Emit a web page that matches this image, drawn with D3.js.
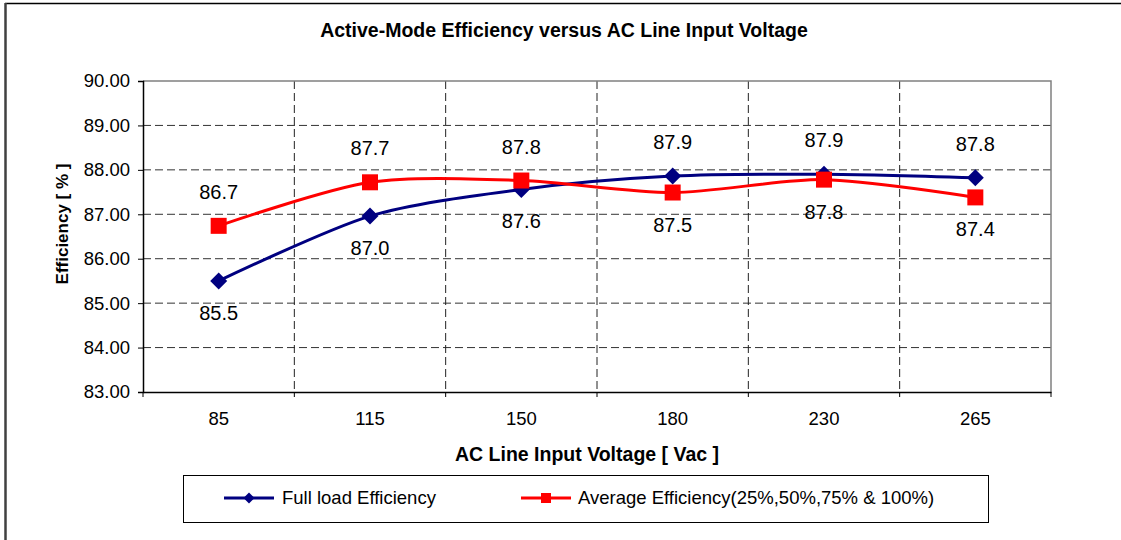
<!DOCTYPE html>
<html>
<head>
<meta charset="utf-8">
<script src="https://cdn.jsdelivr.net/npm/d3@7"></script>
<style>
  body { margin: 0; background: #fff; }
  svg { display: block; font-family: "Liberation Sans", Arial, sans-serif; }
</style>
</head>
<body>
<script>
// chart data
var voltages = ["85", "115", "150", "180", "230", "265"];
var fullLoad = [85.50, 86.96, 87.56, 87.86, 87.90, 87.82];
var average = [86.74, 87.72, 87.76, 87.49, 87.78, 87.38];
var yTicks = [83, 84, 85, 86, 87, 88, 89, 90];
var fullLabelSide = ["below", "below", "below", "above", "above", "above"];
var avgLabelSide = ["above", "above", "above", "below", "below", "below"];
var seriesNames = ["Full load Efficiency", "Average Efficiency(25%,50%,75% & 100%)"];

var W = 1121, H = 540;
var margin = { top: 81, right: 70, bottom: 148, left: 143 };
var width = W - margin.left - margin.right,
    height = H - margin.top - margin.bottom;

var svg = d3.select("body").append("svg")
    .attr("width", W)
    .attr("height", H);

// outer frame (only top and left edges show)
svg.append("line").attr("x1", 5).attr("x2", W).attr("y1", 3.5).attr("y2", 3.5)
    .attr("stroke", "#000").attr("stroke-width", 1.5);
svg.append("line").attr("x1", 5.5).attr("x2", 5.5).attr("y1", 3).attr("y2", H)
    .attr("stroke", "#404040").attr("stroke-width", 2.5);

svg.append("text")
    .attr("x", 564).attr("y", 37)
    .attr("text-anchor", "middle")
    .style("font-size", "19.5px").style("font-weight", "bold")
    .text("Active-Mode Efficiency versus AC Line Input Voltage");

var g = svg.append("g")
    .attr("transform", "translate(" + margin.left + "," + margin.top + ")");

var x = d3.scaleBand().domain(voltages).range([0, width]).padding(0);
var y = d3.scaleLinear().domain([83, 90]).range([height, 0]);
var cx = function (i) { return x(voltages[i]) + x.bandwidth() / 2; };

// grid
g.selectAll(".hgrid")
    .data(yTicks.filter(function (d) { return d > 83 && d < 90; }))
  .enter().append("line")
    .attr("x1", 0).attr("x2", width)
    .attr("y1", function (d) { return y(d); })
    .attr("y2", function (d) { return y(d); })
    .attr("stroke", "#333").attr("stroke-dasharray", "8,4");

g.selectAll(".vgrid")
    .data(voltages.slice(1))
  .enter().append("line")
    .attr("x1", function (d) { return x(d); })
    .attr("x2", function (d) { return x(d); })
    .attr("y1", 0).attr("y2", height)
    .attr("stroke", "#222").attr("stroke-dasharray", "8,4");

// top and right border of the plot
g.append("path")
    .attr("d", "M0,0H" + width + "V" + height)
    .attr("fill", "none").attr("stroke", "#808080").attr("stroke-width", 1.5);

// y axis
var yAxis = d3.axisLeft(y)
    .tickValues(yTicks)
    .tickFormat(d3.format(".2f"))
    .tickSize(5)
    .tickPadding(8);

var ya = g.append("g").call(yAxis);
ya.select(".domain").attr("stroke", "#000").attr("stroke-width", 1.5);
ya.selectAll("text").style("font-size", "18.5px").attr("fill", "#000").attr("font-family", null);

// x axis: labels centred in bands, ticks on the band edges
var xAxis = d3.axisBottom(x).tickSize(0).tickPadding(20);
var xa = g.append("g")
    .attr("transform", "translate(0," + height + ")")
    .call(xAxis);
xa.select(".domain").attr("stroke", "#000").attr("stroke-width", 1.5);
xa.selectAll("text").style("font-size", "18.5px").attr("fill", "#000").attr("font-family", null);

xa.selectAll(".edge")
    .data(voltages.map(function (d) { return x(d); }).concat([width]))
  .enter().append("line")
    .attr("x1", function (d) { return d; })
    .attr("x2", function (d) { return d; })
    .attr("y1", 0).attr("y2", 5)
    .attr("stroke", "#000");

// axis titles
svg.append("text")
    .attr("transform", "translate(62," + 224 + ") rotate(-90)")
    .attr("text-anchor", "middle")
    .attr("dy", "0.35em")
    .style("font-size", "17px").style("font-weight", "bold")
    .text("Efficiency [ % ]");

svg.append("text")
    .attr("x", 587).attr("y", 461)
    .attr("text-anchor", "middle")
    .style("font-size", "19.5px").style("font-weight", "bold")
    .text("AC Line Input Voltage [ Vac ]");

// lines (Excel style smoothing)
var line = d3.line()
    .x(function (d, i) { return cx(i); })
    .y(function (d) { return y(d); })
    .curve(d3.curveCardinal.tension(0.15));

var navy = "#000080", red = "#ff0000";
var fmt = d3.format(".1f");

function drawSeries(values, color, shape, sides) {
  g.append("path")
      .datum(values)
      .attr("fill", "none")
      .attr("stroke", color)
      .attr("stroke-width", 3)
      .attr("d", line);

  g.selectAll(null)
      .data(values)
    .enter().append("path")
      .attr("transform", function (d, i) { return "translate(" + cx(i) + "," + y(d) + ")"; })
      .attr("d", shape)
      .attr("fill", color);

  g.selectAll(null)
      .data(values)
    .enter().append("text")
      .attr("x", function (d, i) { return cx(i); })
      .attr("y", function (d, i) { return y(d) + (sides[i] === "above" ? -34 : 32); })
      .attr("dy", "0.35em")
      .attr("text-anchor", "middle")
      .style("font-size", "20px")
      .text(function (d) { return fmt(d); });
}

var diamond = "M0,-8.5L8.5,0L0,8.5L-8.5,0Z";
var square = "M-8,-8H8V8H-8Z";

drawSeries(fullLoad, navy, diamond, fullLabelSide);
drawSeries(average, red, square, avgLabelSide);

// legend
var legend = svg.append("g");
legend.append("rect")
    .attr("x", 183.5).attr("y", 475.5)
    .attr("width", 805).attr("height", 47)
    .attr("fill", "#fff").attr("stroke", "#000");

var legendItems = [
  { name: seriesNames[0], color: navy, shape: "M0,-5.5L5.5,0L0,5.5L-5.5,0Z", x0: 224, tx: 282 },
  { name: seriesNames[1], color: red, shape: "M-5,-5H5V5H-5Z", x0: 521, tx: 578 }
];

legendItems.forEach(function (it) {
  legend.append("line")
      .attr("x1", it.x0).attr("x2", it.x0 + 50)
      .attr("y1", 498).attr("y2", 498)
      .attr("stroke", it.color).attr("stroke-width", 3);
  legend.append("path")
      .attr("transform", "translate(" + (it.x0 + 25) + ",498)")
      .attr("d", it.shape)
      .attr("fill", it.color);
  legend.append("text")
      .attr("x", it.tx).attr("y", 498)
      .attr("dy", "0.35em")
      .style("font-size", "18.5px")
      .text(it.name);
});
</script>
</body>
</html>
